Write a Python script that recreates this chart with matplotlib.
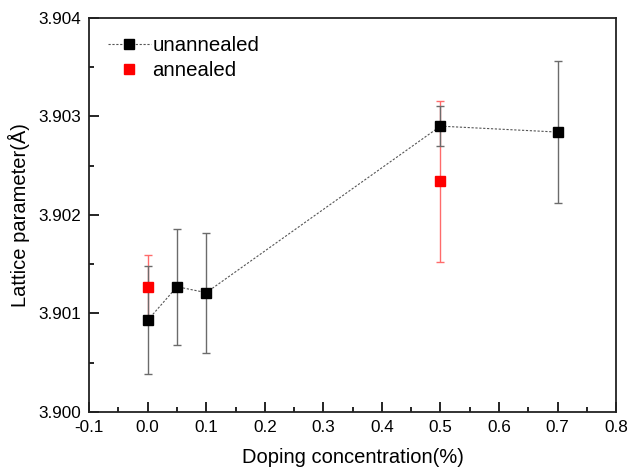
import numpy as np
import matplotlib.pyplot as plt
from matplotlib.ticker import MultipleLocator, FormatStrFormatter

plt.rcParams['font.family'] = ['Liberation Sans', 'DejaVu Sans']

# unannealed samples
x_un = [0.0, 0.05, 0.1, 0.5, 0.7]
y_un = [3.90093, 3.90127, 3.90121, 3.90290, 3.90284]
err_un = [0.00055, 0.00059, 0.00061, 0.00020, 0.00072]

# annealed samples
x_an = [0.0, 0.5]
y_an = [3.90127, 3.90234]
err_an = [0.00032, 0.00082]

fig = plt.figure(figsize=(6.28, 4.68), dpi=100)
ax = fig.add_axes([0.142, 0.12, 0.839, 0.842])

ax.errorbar(x_an, y_an, yerr=err_an, fmt='none', ecolor='#ff6b6b',
            elinewidth=1.0, capsize=3, capthick=1.0, zorder=2)
ax.errorbar(x_un, y_un, yerr=err_un, fmt='none', ecolor='#6b6b6b',
            elinewidth=1.0, capsize=3, capthick=1.0, zorder=2)
ax.plot(x_un, y_un, linestyle=(0, (2, 1.5)), color='#555555', linewidth=0.8,
        marker='s', markersize=6.5, markerfacecolor='black',
        markeredgecolor='black', label='unannealed', zorder=4)
ax.plot(x_an, y_an, linestyle='none', marker='s', markersize=6.5,
        markerfacecolor='red', markeredgecolor='red', label='annealed', zorder=3)

ax.set_xlim(-0.1, 0.8)
ax.set_ylim(3.900, 3.904)
ax.xaxis.set_major_locator(MultipleLocator(0.1))
ax.xaxis.set_minor_locator(MultipleLocator(0.05))
ax.yaxis.set_major_locator(MultipleLocator(0.001))
ax.yaxis.set_minor_locator(MultipleLocator(0.0005))
ax.xaxis.set_major_formatter(FormatStrFormatter('%.1f'))
ax.yaxis.set_major_formatter(FormatStrFormatter('%.3f'))
ax.tick_params(which='major', direction='in', length=7, width=1.2,
               labelsize=12.3, top=False, right=False, pad=6)
ax.tick_params(which='minor', direction='in', length=3.5, width=1.2,
               top=False, right=False)
for sp in ax.spines.values():
    sp.set_linewidth(1.3)
    sp.set_color('#222222')

ax.set_xlabel('Doping concentration(%)', fontsize=14.5, labelpad=9)
ax.set_ylabel('Lattice parameter(Å)', fontsize=14.5, labelpad=6)

ax.legend(loc='upper left', frameon=False, fontsize=14.7, handlelength=2.15,
          handletextpad=0.05, borderaxespad=0.5, labelspacing=0.3,
          bbox_to_anchor=(0.0, 1.0))

fig.savefig('out.png', dpi=100)
